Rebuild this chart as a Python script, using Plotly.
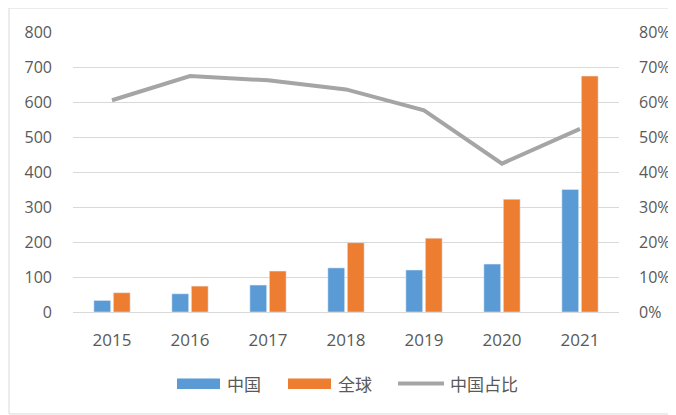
import plotly.graph_objects as go

years = ["2015", "2016", "2017", "2018", "2019", "2020", "2021"]
china = [33, 52, 77, 126, 120, 137, 350]
world = [55, 74, 117, 198, 211, 322, 674]
share = [0.605, 0.674, 0.662, 0.636, 0.576, 0.424, 0.523]
left_ticks = [0, 100, 200, 300, 400, 500, 600, 700, 800]
right_ticks = [0, 0.1, 0.2, 0.3, 0.4, 0.5, 0.6, 0.7, 0.8]
right_labels = ["0%", "10%", "20%", "30%", "40%", "50%", "60%", "70%", "80%"]
legend_names = ["中国", "全球", "中国占比"]

BLUE = "#5B9BD5"
ORANGE = "#ED7D31"
GREY = "#A5A5A5"
TXT = "#595959"
GRID = "#D9D9D9"

OFF = 8  # page body margin offset
W, H = 676, 415
# target plot area in viewport pixels: x 73..619, y 32..312
L, T = 73 - OFF, 32 - OFF
R = W - (619 - OFF)
B = H - (312 - OFF)
PW, PH = W - L - R, H - T - B

def px(x):
    return (x - OFF - L) / PW

def py(y):
    return (H - B - (y - OFF)) / PH

fig = go.Figure()
fig.add_trace(go.Bar(x=years, y=china, name=legend_names[0], marker_color=BLUE, showlegend=False))
fig.add_trace(go.Bar(x=years, y=world, name=legend_names[1], marker_color=ORANGE, showlegend=False))
fig.add_trace(go.Scatter(x=years, y=share, name=legend_names[2], mode="lines",
                         line=dict(color=GREY, width=4), yaxis="y2", showlegend=False))

font_num = "Open Sans, Liberation Sans, sans-serif"
fig.update_layout(
    width=W, height=H,
    margin=dict(l=L, r=R, t=T, b=B, autoexpand=False),
    paper_bgcolor="white", plot_bgcolor="white",
    barmode="group", bargap=0.5, bargroupgap=0.14,
    xaxis=dict(type="category", showgrid=False, showline=False, ticks="",
               tickfont=dict(family=font_num, size=17, color=TXT), ticklabelstandoff=16),
    yaxis=dict(range=[0, 800], tickvals=left_ticks, showgrid=True, gridcolor=GRID, gridwidth=1,
               zeroline=True, zerolinecolor=GRID, zerolinewidth=1, showline=False, ticks="",
               tickfont=dict(family=font_num, size=16, color=TXT), ticklabelstandoff=20),
    yaxis2=dict(range=[0, 0.8], tickvals=right_ticks, ticktext=right_labels, overlaying="y",
                side="right", showgrid=False, zeroline=False, showline=False, ticks="",
                tickfont=dict(family=font_num, size=16, color=TXT), ticklabelstandoff=19),
)

shapes = [
    dict(type="rect", xref="paper", yref="paper", x0=px(9), x1=px(690), y0=py(8), y1=py(414),
         line=dict(color=GRID, width=1), fillcolor="rgba(0,0,0,0)", layer="below"),
    dict(type="rect", xref="paper", yref="paper", x0=px(177), x1=px(220), y0=py(378.5), y1=py(389),
         line=dict(width=0), fillcolor=BLUE),
    dict(type="rect", xref="paper", yref="paper", x0=px(288), x1=px(331), y0=py(378.5), y1=py(389),
         line=dict(width=0), fillcolor=ORANGE),
    dict(type="line", xref="paper", yref="paper", x0=px(398), x1=px(444), y0=py(383.5), y1=py(383.5),
         line=dict(color=GREY, width=4)),
]
cjk = "Noto Sans CJK SC"
anns = []
for xpos, name in zip([225, 336, 448], legend_names):
    anns.append(dict(xref="paper", yref="paper", x=px(xpos), y=py(383.5), text=name, showarrow=False,
                     xanchor="left", yanchor="middle", font=dict(family=cjk, size=17, color=TXT)))
fig.update_layout(shapes=shapes, annotations=anns)

fig.write_html("out.html")
